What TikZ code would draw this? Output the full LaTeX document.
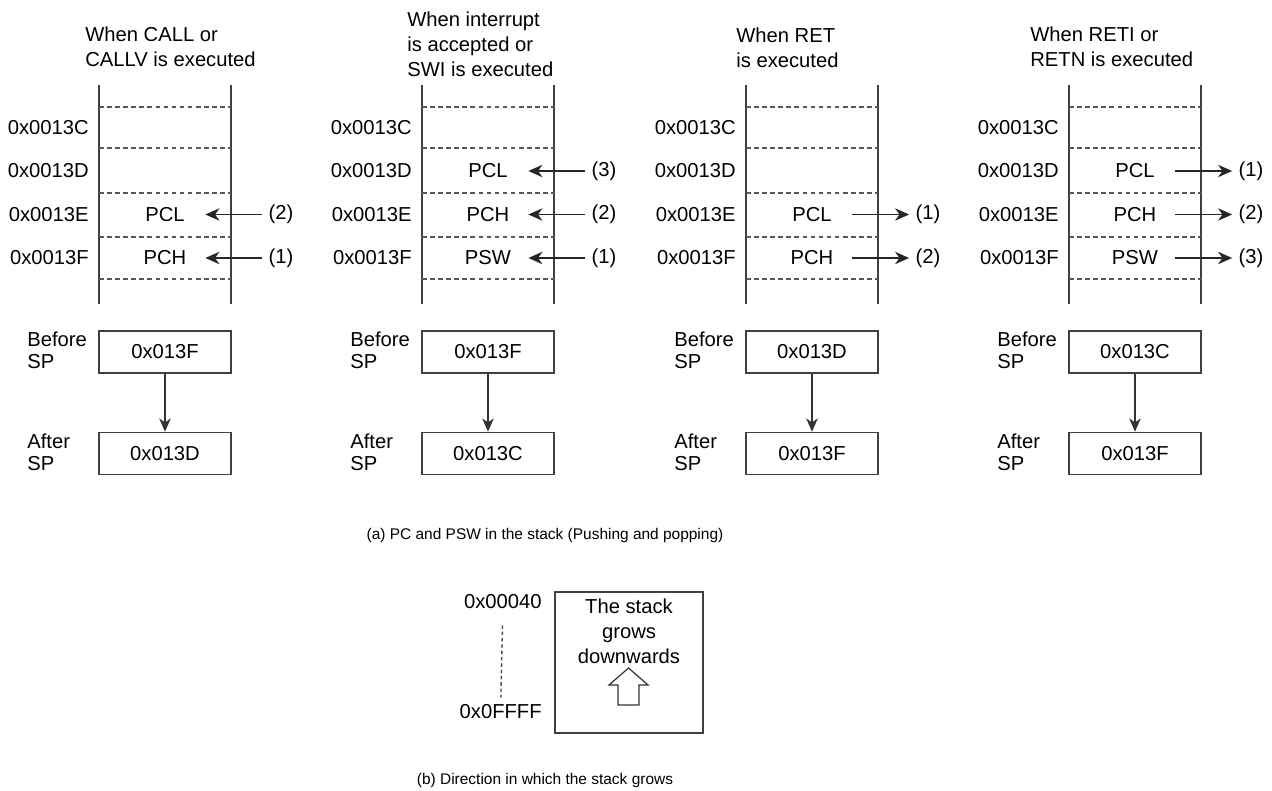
\documentclass[tikz,border=0pt]{standalone}
\usepackage{fontspec}
\setmainfont{Liberation Sans}
\usetikzlibrary{arrows.meta,positioning}

\newcommand\bodysize{\fontsize{11.5}{14.2}\selectfont}
\newcommand\spsize{\fontsize{11.5}{12.5}\selectfont}
\newcommand\capsize{\fontsize{8.8}{10}\selectfont}

\tikzset{
  stackline/.style={line width=1pt, black!75},
  slotline/.style={line width=0.8pt, black!65, dash pattern=on 2.6pt off 2pt},
  addr/.style={anchor=east, inner sep=0pt},
  slot/.style={minimum width=1.6cm, inner sep=0pt},
  num/.style={inner sep=3.5pt},
  title/.style={anchor=north west, align=left, inner sep=0pt},
  splabel/.style={anchor=north west, align=left, inner sep=0pt, font=\spsize},
  spbox/.style={draw=black!75, line width=0.9pt, minimum width=2.64cm, minimum height=0.84cm},
  push/.style={-{Stealth[length=8pt,width=7pt,inset=2.5pt]}, line width=1.1pt, black!85},
  move/.style={-{Stealth[length=7.5pt,width=6.5pt,inset=2.2pt]}, line width=1.1pt, black!80}
}

\begin{document}
\begin{tikzpicture}[x=0.02cm, y=-0.02cm, font=\bodysize]
\useasboundingbox (0,0) rectangle (1272,791);

% four stack columns, left edge \L
\foreach \L/\i/\before/\after in {99/1/0x013F/0x013D, 422/2/0x013F/0x013C,
                                  746/3/0x013D/0x013F, 1069/4/0x013C/0x013F} {
  \draw[stackline] (\L,85) -- (\L,304);
  \draw[stackline] (\L+132,85) -- (\L+132,304);
  \foreach \y in {107,148,193,237,279}
    \draw[slotline] (\L,\y) -- (\L+132,\y);
  \node[addr] (c\i) at (\L-10,127.5) {0x0013C};
  \node[addr] (d\i) at (\L-10,171) {0x0013D};
  \node[addr] (e\i) at (\L-10,214.5) {0x0013E};
  \node[addr] (f\i) at (\L-10,258) {0x0013F};
  % stack pointer before / after
  \node[spbox] (bef\i) at (\L+66,352) {\before};
  \node[spbox] (aft\i) at (\L+66,453.5) {\after};
  \node[splabel] (bl\i) at (\L-72,331.5) {Before\\SP};
  \node[splabel] (al\i) at (\L-72,433.5) {After\\SP};
  \draw[move] (bef\i) -- (aft\i);
}

% titles
\node[title] (t1) at (85,26.5) {When CALL or\\CALLV is executed};
\node[title] (t2) at (407,11.5) {When interrupt\\is accepted or\\SWI is executed};
\node[title] (t3) at (736,28) {When RET\\is executed};
\node[title] (t4) at (1030,26.5) {When RETI or\\RETN is executed};

% CALL / CALLV: pushed
\foreach \txt/\y/\n [count=\k] in {PCL/214.5/2, PCH/258/1} {
  \node[slot] (s1-\k) at (165,\y) {\txt};
  \node[num] (n1-\k) at (281,\y) {(\n)};
  \draw[push] (n1-\k) -- (s1-\k);
}
% interrupt / SWI: pushed
\foreach \txt/\y/\n [count=\k] in {PCL/171/3, PCH/214.5/2, PSW/258/1} {
  \node[slot] (s2-\k) at (488,\y) {\txt};
  \node[num] (n2-\k) at (604,\y) {(\n)};
  \draw[push] (n2-\k) -- (s2-\k);
}
% RET: popped
\foreach \txt/\y/\n [count=\k] in {PCL/214.5/1, PCH/258/2} {
  \node[slot] (s3-\k) at (812,\y) {\txt};
  \node[num] (n3-\k) at (928,\y) {(\n)};
  \draw[push] (s3-\k) -- (n3-\k);
}
% RETI / RETN: popped
\foreach \txt/\y/\n [count=\k] in {PCL/171/1, PCH/214.5/2, PSW/258/3} {
  \node[slot] (s4-\k) at (1135,\y) {\txt};
  \node[num] (n4-\k) at (1251,\y) {(\n)};
  \draw[push] (s4-\k) -- (n4-\k);
}

\node[font=\capsize] (capa) at (545,535) {(a) PC and PSW in the stack (Pushing and popping)};

% direction of growth
\node[draw=black!75, line width=0.9pt, minimum width=2.96cm, minimum height=2.82cm] (grow) at (629,662.5) {};
\node[anchor=north, align=center, inner sep=0pt] (growtxt) at (629,598.5) {The stack\\grows\\downwards};
\draw[line width=0.7pt, black!80, line join=miter]
  (628.5,668) -- (648,685) -- (639,685) -- (639,705) -- (618,705) -- (618,685) -- (609,685) -- cycle;
\node[addr] (lo) at (542,602) {0x00040};
\node[addr] (hi) at (542,712) {0x0FFFF};
\draw[line width=0.8pt, black!70, dash pattern=on 2pt off 1.6pt, shorten <=9pt, shorten >=4pt] (lo.south) -- (hi.north);

\node[font=\capsize] (capb) at (545,780) {(b) Direction in which the stack grows};
\end{tikzpicture}
\end{document}
